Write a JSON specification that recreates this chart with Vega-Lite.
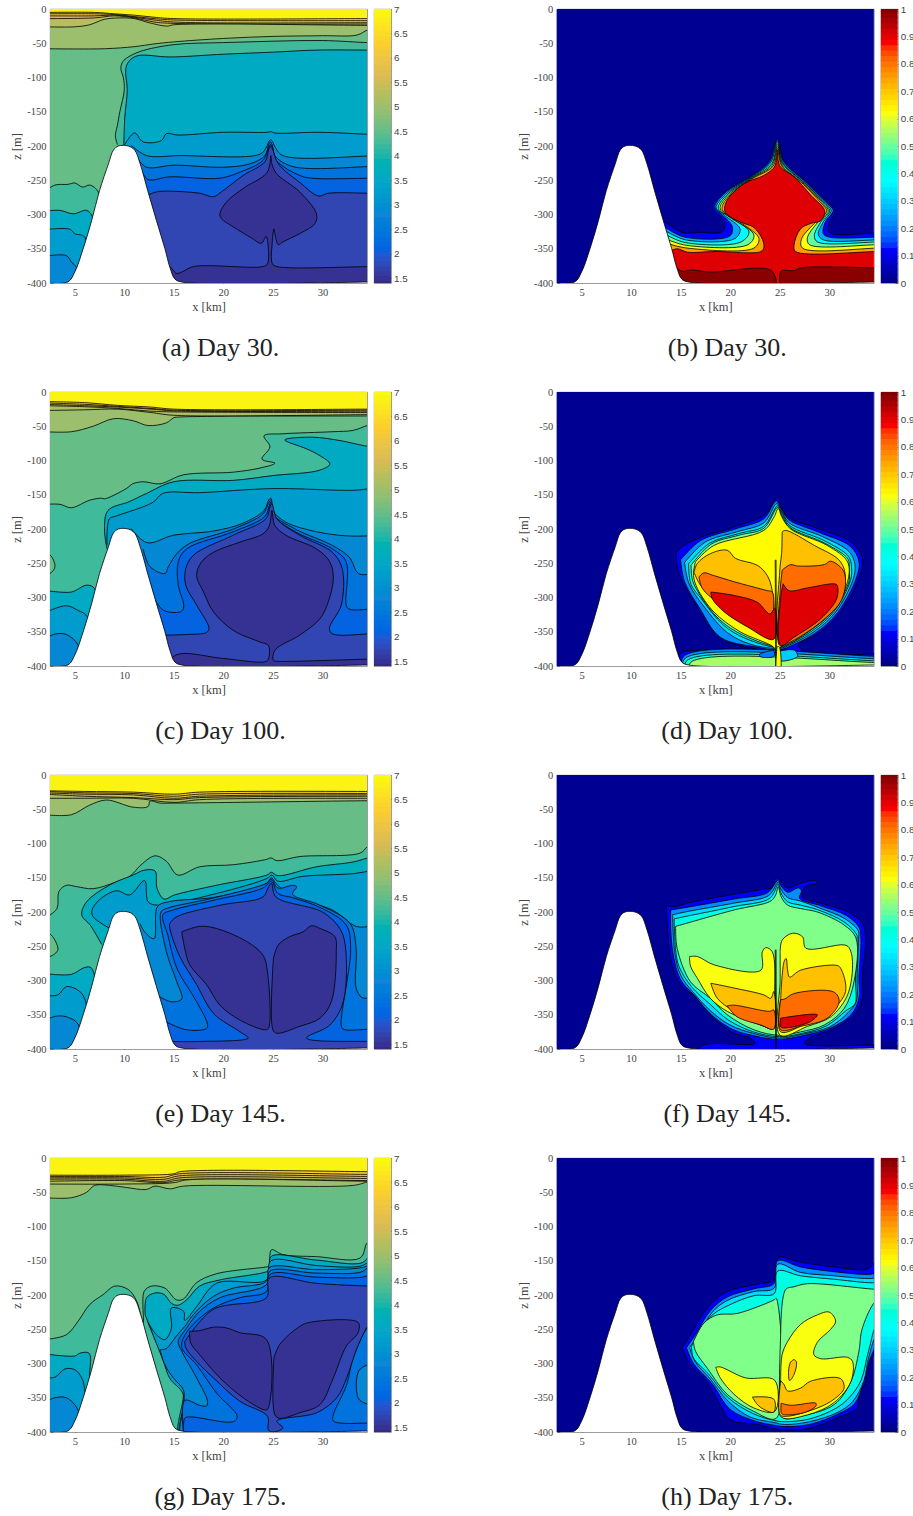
{"$schema":"https://vega.github.io/schema/vega-lite/v6.json","background":"white","padding":{"left":10,"top":3,"right":0,"bottom":0},
"config":{"view":{"stroke":"#666","strokeWidth":0.8},"title":{"font":"Liberation Serif","fontSize":26,"fontWeight":"normal","color":"#222","anchor":"middle"},"axis":{"labelFont":"Liberation Serif","titleFont":"Liberation Serif","labelFontSize":10.5,"titleFontSize":12.5,"titleFontWeight":"normal","labelColor":"#444","titleColor":"#444","domain":false,"grid":false,"tickSize":-3,"tickColor":"#444","tickWidth":0.6,"labelPadding":7,"titlePadding":3,"labelOverlap":false},"axisY":{"tickCount":12}},
"datasets":{
"sea":[{"pts":[[1,-398.5],[4.3,-398.5],[5,-384],[5.85,-350],[6.7,-309],[7.5,-265],[8.4,-226],[8.9,-206],[9.4,-200],[10.4,-200],[11.05,-206],[11.6,-226],[12.4,-267],[13.25,-309],[14.1,-350],[14.6,-377],[15.1,-394],[15.8,-398.5],[35,-398.5],[36,-398.5],[36,-420],[1,-420],[1,-398.5]]}],
"cb":[{"c":"T","v":[1.4,1.5,1.6,1.7,1.8,1.9,2,2.1,2.2,2.3,2.4,2.5,2.6,2.7,2.8,2.9,3,3.1,3.2,3.3,3.4,3.5,3.6,3.7,3.8,3.9,4,4.1,4.2,4.3,4.4,4.5,4.6,4.7,4.8,4.9,5,5.1,5.2,5.3,5.4,5.5,5.6,5.7,5.8,5.9,6,6.1,6.2,6.3,6.4,6.5,6.6,6.7,6.8,6.9,7]},{"c":"J","v":[0,0.02,0.04,0.06,0.08,0.1,0.12,0.14,0.16,0.18,0.2,0.22,0.24,0.26,0.28,0.3,0.32,0.34,0.36,0.38,0.4,0.42,0.44,0.46,0.48,0.5,0.52,0.54,0.56,0.58,0.6,0.62,0.64,0.66,0.68,0.7,0.72,0.74,0.76,0.78,0.8,0.82,0.84,0.86,0.88,0.9,0.92,0.94,0.96,0.98,1]}],
"m":[
{"p":"a","k":1,"v":6.9,"pts":[[2,5],[35,5],[35,-420],[2,-420]]},
{"p":"a","k":2,"v":6.3,"pts":[[2,-5],[7,-5],[9,-7],[11,-9],[13,-12],[15,-14],[35,-14],[37,-14],[37,-420],[2,-420]]},
{"p":"a","k":3,"v":5.9,"pts":[[2,-7],[7,-7],[9,-8],[11,-11],[13,-14],[15,-16],[35,-17],[37,-17],[37,-420],[2,-420]]},
{"p":"a","k":4,"v":5.6,"pts":[[2,-10],[7,-10],[9,-9],[11,-12],[13,-16],[15,-19],[35,-20],[37,-20],[37,-420],[2,-420]]},
{"p":"a","k":5,"v":5.3,"pts":[[2,-14],[7,-13],[9,-10],[11,-13],[13,-19],[15,-21],[35,-22],[37,-22],[37,-420],[2,-420]]},
{"p":"a","k":6,"v":5,"pts":[[2,-26],[5,-26],[6.5,-23],[8,-15],[9.5,-13],[11,-14],[12.5,-20],[14.3,-25],[15,-23],[35,-24],[37,-24],[37,-420],[2,-420]]},
{"p":"a","k":7,"v":4.55,"pts":[[2,-58],[8,-58],[11,-55],[13,-51],[15,-48],[20,-43],[25,-40],[30,-39],[33.5,-38],[34.5,-31],[35,-30],[37,-30],[37,-420],[2,-420]]},
{"p":"a","k":8,"v":4.25,"pts":[[9.3,-198],[9.1,-185],[9.3,-170],[9.55,-150],[10,-118],[9.9,-100],[9.65,-87],[9.8,-78],[10.2,-72],[11.6,-62],[15,-52],[20,-49],[25,-47],[30,-46],[34.5,-49],[35,-49],[37,-49],[37,-420],[9.3,-420]]},
{"p":"a","k":9,"v":3.6,"pts":[[9.95,-199],[10.05,-158],[10.3,-118],[10.15,-87],[10.55,-75],[11.4,-68],[14.6,-70],[20,-66],[25,-63],[29.4,-60],[35,-60],[37,-60],[37,-420],[9.95,-420]]},
{"p":"a","k":10,"v":3.25,"pts":[[10,-199],[10.2,-194],[11.05,-181],[11.9,-194],[13.75,-192],[14.25,-182],[15.4,-184],[20,-180],[24.4,-180],[24.8,-179],[25.2,-181],[29.75,-180],[35,-183],[37,-183],[37,-420],[10,-420]]},
{"p":"a","k":11,"v":2.85,"pts":[[10.7,-199],[12.25,-214],[15.6,-214],[23.7,-212],[24.35,-201.5],[24.6,-193],[24.75,-191],[24.95,-193],[25.2,-201],[26,-214],[35,-214.6],[37,-214.6],[37,-420],[10.7,-420]]},
{"p":"a","k":12,"v":2.4,"pts":[[11.2,-216],[12.25,-231],[15,-228],[20,-231],[22.7,-226],[24.2,-214],[24.6,-197],[24.75,-194],[24.9,-197],[25.2,-214],[27,-230],[35,-230],[37,-230],[37,-420],[11.2,-420]]},
{"p":"a","k":13,"v":2.1,"pts":[[11.75,-236],[12.4,-249],[14.6,-245],[19.65,-247],[21.7,-238],[24,-221],[24.6,-201],[24.75,-198],[24.95,-201],[25.35,-221],[27.7,-243],[28.9,-247],[35,-247],[37,-247],[37,-420],[11.75,-420]]},
{"p":"a","k":14,"v":1.75,"pts":[[12.35,-272],[13.25,-267],[14.75,-266],[17.6,-269],[19,-274],[19.8,-267],[22,-243],[24.2,-223],[24.6,-204],[24.8,-200],[24.95,-204],[25.55,-226],[27.7,-253],[29.6,-273],[30.6,-269],[35,-269],[37,-269],[37,-420],[12.35,-420]]},
{"p":"a","k":15,"v":1.5,"pts":[[14.3,-420],[14.45,-375],[15.3,-386],[15.8,-384],[17,-376],[24,-376],[24.45,-372],[24.5,-343],[24.3,-332],[23.85,-342],[22.7,-333],[21,-318],[19.8,-306],[19.65,-299],[20.3,-282],[22,-262],[24.35,-240],[24.7,-226],[24.8,-214],[24.9,-226],[25.35,-240],[27.7,-267],[29.4,-299],[29.25,-313],[27.7,-328],[26,-340],[25.55,-344],[25.2,-328],[25.1,-321],[24.95,-338],[24.95,-372],[25.4,-376],[35,-376],[37,-376],[37,-420]]},
{"p":"a","k":16,"v":4.25,"pts":[[2,-266],[3,-257],[4.3,-256],[5,-254],[5.8,-260],[6.5,-257],[7.4,-268],[8,-420],[2,-420]]},
{"p":"a","k":17,"v":3.6,"pts":[[2,-295],[3.5,-294],[4.85,-299],[6.2,-294],[6.8,-304],[7,-420],[2,-420]]},
{"p":"a","k":18,"v":3.25,"pts":[[2,-322],[4.5,-321.5],[5,-328],[6,-333],[6.2,-420],[2,-420]]},
{"p":"a","k":19,"v":2.85,"pts":[[2,-361],[4.15,-360],[4.7,-370],[5.15,-377],[5.3,-420],[2,-420]]},

{"p":"b","k":1,"v":0.02,"pts":[[2,5],[35,5],[35,-420],[2,-420]]},
{"p":"b","k":2,"v":0.12,"pts":[[13.2,-309],[15.35,-327],[16.7,-326],[19.2,-325],[19.45,-311],[18.35,-294],[18.2,-287],[19.4,-267],[22.1,-243],[23.9,-221],[24.25,-206],[24.6,-192],[24.75,-188],[24.95,-192],[25.45,-221],[27.8,-253],[30,-284],[30.6,-294],[30,-311],[30,-326],[35,-327],[37,-327],[37,-420],[13,-420]]},
{"p":"b","k":3,"v":0.25,"pts":[[13.35,-318],[15.4,-333],[20,-331],[20.2,-317],[19,-298],[18.45,-289],[19.45,-269],[22.1,-245],[24,-223],[24.75,-192],[25.4,-223],[27.7,-254],[29.8,-284],[30.4,-294],[29.6,-311],[29.4,-328],[30,-333],[35,-333],[37,-333],[37,-420],[13,-420]]},
{"p":"b","k":4,"v":0.37,"pts":[[13.5,-324],[15.5,-337],[20.5,-335],[21,-321],[19.4,-301],[18.6,-290],[19.5,-271],[22.1,-246],[24.1,-224],[24.75,-194],[25.3,-224],[27.6,-255],[29.65,-284],[30.2,-294],[29.35,-312],[28.9,-329],[29.4,-337],[35,-337],[37,-337],[37,-420],[13,-420]]},
{"p":"b","k":5,"v":0.5,"pts":[[13.6,-330],[15.5,-341],[21.1,-340],[21.9,-325],[19.9,-303.5],[18.8,-291],[19.55,-273],[22.1,-247],[24.2,-226],[24.75,-197],[25.3,-226],[27.55,-255],[29.5,-284],[30.05,-294.5],[29.1,-312],[28.5,-331],[28.8,-340],[35,-340],[37,-340],[37,-420],[13,-420]]},
{"p":"b","k":6,"v":0.62,"pts":[[13.75,-337],[15.6,-345],[21.8,-344],[22.4,-330],[20.4,-307],[19,-292],[19.6,-275],[22.1,-248],[24.25,-228],[24.75,-200],[25.25,-228],[27.5,-256],[29.3,-283],[29.9,-295],[28.8,-312],[27.8,-334],[28,-344],[35,-344],[37,-344],[37,-420],[13,-420]]},
{"p":"b","k":7,"v":0.75,"pts":[[13.85,-343],[15.65,-349],[22.4,-349],[22.9,-335],[20.9,-310],[19.2,-293],[19.65,-277],[22.1,-249],[24.35,-229],[24.75,-203],[25.2,-229],[27.4,-256],[29.15,-283],[29.75,-295],[28.5,-313],[27.2,-336],[27.3,-349],[35,-349],[37,-349],[37,-420],[13,-420]]},
{"p":"b","k":8,"v":0.905,"pts":[[14,-353],[14.65,-350],[15.7,-355],[18.4,-354],[23.1,-354],[23.4,-348],[23.25,-336],[22.4,-319],[21.4,-313],[20.05,-304],[19.45,-295],[19.7,-279],[21.4,-255],[23.4,-243],[24.45,-231],[24.65,-221],[24.75,-206],[24.85,-221],[25.1,-231],[26.45,-245],[28.15,-272],[29.55,-295],[29.15,-309],[28.15,-313],[27.1,-321],[26.45,-345],[26.6,-354],[35,-354],[37,-354],[37,-420],[13,-420]]},
{"p":"b","k":9,"v":0.99,"pts":[[14.5,-376],[15.15,-383],[16,-381],[18,-384],[24.25,-383],[24.25,-420],[14,-420]]},
{"p":"b","k":10,"v":0.99,"pts":[[25.15,-420],[25.15,-383],[26.45,-382],[27.1,-378],[35,-378],[37,-378],[37,-420]]},

{"p":"c","k":1,"v":6.9,"pts":[[2,5],[35,5],[35,-420],[2,-420]]},
{"p":"c","k":2,"v":6.3,"pts":[[2,-14],[6,-15.5],[9.3,-19.5],[12.7,-22],[15,-25],[35,-25],[37,-25],[37,-420],[2,-420]]},
{"p":"c","k":3,"v":5.9,"pts":[[2,-16],[6,-18],[9.3,-21],[12.7,-24],[15,-26.5],[35,-26.5],[37,-26.5],[37,-420],[2,-420]]},
{"p":"c","k":4,"v":5.5,"pts":[[2,-18],[6,-20],[9.3,-22],[12.7,-25],[15,-27.5],[35,-28],[37,-28],[37,-420],[2,-420]]},
{"p":"c","k":5,"v":5.2,"pts":[[2,-20],[6,-21.5],[9.3,-24],[12.7,-28],[15,-29],[35,-30],[37,-30],[37,-420],[2,-420]]},
{"p":"c","k":6,"v":5,"pts":[[2,-27],[6,-26],[9.3,-25],[12.7,-30],[15,-34],[35,-33],[37,-33],[37,-420],[2,-420]]},
{"p":"c","k":7,"v":4.55,"pts":[[2,-58],[4.65,-58],[6.85,-50],[8.9,-39],[10.9,-42],[12.4,-49],[14.25,-45],[15,-37.5],[15.6,-36.5],[35,-35],[37,-35],[37,-420],[2,-420]]},
{"p":"c","k":8,"v":4.25,"pts":[[2,-164],[3.5,-164],[4.65,-169],[6.5,-158],[7.7,-155],[8,-156],[10.2,-141],[10.85,-134],[11.9,-131],[13.6,-134],[15.95,-121],[21,-117],[23.7,-111],[25.2,-104],[23.9,-98],[24.7,-80],[24.1,-64],[26,-61],[31,-58],[33.1,-56],[34.5,-49],[35,-47],[37,-47],[37,-420],[2,-420]]},
{"p":"c","k":9,"v":4.55,"pts":[[2,-238],[2.5,-238],[3,-255],[2.5,-265],[2,-265]]},
{"p":"c","k":10,"v":3.6,"pts":[[8.25,-229],[8,-200],[8.35,-173],[10.5,-160],[12.25,-148],[15,-131],[21,-129],[25,-122],[29.75,-114],[30.75,-105],[29.75,-93],[28.4,-83],[26.2,-70],[29,-66],[31.8,-71],[34.5,-79],[35,-79],[37,-79],[37,-420],[8.25,-420]]},
{"p":"c","k":11,"v":3.25,"pts":[[8.25,-224],[8.5,-185],[9.2,-181],[12.9,-161],[13.9,-148],[17.6,-147],[25,-141],[33.1,-143.5],[35,-141],[37,-141],[37,-420],[8.25,-420]]},
{"p":"c","k":12,"v":2.85,"pts":[[10.7,-199.5],[12.3,-220],[15,-209],[19,-203],[21.9,-192],[24.1,-173],[24.6,-157],[24.8,-155],[25,-173],[26.3,-190],[29.4,-204],[32.4,-210],[35,-210],[37,-210],[37,-420],[10.7,-420]]},
{"p":"c","k":13,"v":2.4,"pts":[[11.9,-229],[12.6,-255],[14.1,-265],[14.45,-255],[15.3,-236],[16.6,-221],[21,-200],[24,-178],[24.6,-161],[24.85,-157],[25,-178],[27.25,-200],[31,-224],[32.7,-241],[33.65,-265],[35,-266],[37,-266],[37,-420],[11.9,-420]]},
{"p":"c","k":14,"v":2.1,"pts":[[12.9,-299],[14,-319],[15.8,-320],[16,-311],[15.45,-282],[15.45,-248],[16.3,-229],[21,-204],[24.2,-181.5],[24.65,-165],[24.85,-160],[25.15,-181.5],[27.25,-204],[31,-229],[32.4,-248],[32.4,-311],[32.7,-317],[35,-317],[37,-317],[37,-420],[12.9,-420]]},
{"p":"c","k":15,"v":1.75,"pts":[[14.1,-355],[16.3,-354],[18.3,-351],[18.55,-345],[17.3,-311],[16.2,-282],[16.2,-258],[17,-238],[21,-209],[24.3,-185],[24.7,-168],[24.9,-163],[25.4,-185],[27.7,-209],[31,-234],[32,-258],[31.9,-311],[30.7,-345],[31,-353],[35,-353],[37,-353],[37,-420],[14,-420]]},
{"p":"c","k":16,"v":1.5,"pts":[[14.3,-420],[14.75,-389],[15.75,-382],[20,-389],[24.35,-393],[24.6,-387],[24.55,-370],[23.7,-365],[21,-348],[19,-321],[18,-292],[17.3,-268],[17.8,-248],[19,-234],[21.7,-219],[24,-207],[24.65,-195],[24.9,-173],[25.2,-195],[26.3,-209],[29.4,-229],[30.75,-248],[31.1,-272],[30.6,-306],[29.75,-331],[27.7,-355],[25.2,-377],[25.05,-392],[25.35,-393],[34.5,-390],[35,-390],[37,-390],[37,-420]]},
{"p":"c","k":17,"v":3.6,"pts":[[2,-289.5],[4.65,-292],[6.2,-282],[7,-287],[7.2,-420],[2,-420]]},
{"p":"c","k":18,"v":3.25,"pts":[[2,-322],[4.15,-312],[5.35,-319],[6.25,-328],[6.4,-420],[2,-420]]},
{"p":"c","k":19,"v":2.85,"pts":[[2,-359],[3.15,-353],[4.15,-354],[5.35,-370],[5.5,-420],[2,-420]]},

{"p":"d","k":1,"v":0.02,"pts":[[2,5],[35,5],[35,-420],[2,-420]]},
{"p":"d","k":2,"v":0.12,"pts":[[15,-420],[15,-382],[22.3,-382],[22.9,-377],[20.4,-368],[18.35,-350],[16.35,-306],[15,-272],[14.55,-243],[14.7,-232],[16.7,-214],[20.4,-197],[23.4,-180],[24.25,-165],[24.6,-156],[24.85,-154],[25.1,-165],[25.8,-182],[28.8,-199],[32.2,-219],[33.35,-243],[33,-272],[31.15,-321],[29.15,-350],[26.9,-370],[28,-382],[35,-382],[37,-382],[37,-420]]},
{"p":"d","k":3,"v":0.22,"pts":[[15,-245],[17,-217],[20.5,-200],[23.4,-185],[24.65,-159],[25.1,-169],[25.9,-186],[29,-205],[32.1,-225],[33,-247],[32.7,-273],[30.9,-321],[28.9,-349],[26.4,-369],[25,-376],[22.5,-372],[19,-358],[16.9,-315],[15.4,-277],[15,-245]]},
{"p":"d","k":4,"v":0.32,"pts":[[15.4,-249],[17.5,-219],[20.7,-204],[23.4,-191],[24.7,-163],[25.15,-173],[25.95,-191],[29.3,-211],[32,-233],[32.6,-252],[32.4,-274],[30.65,-321],[28.65,-348],[26.2,-368],[25,-374],[22,-368],[19.7,-351],[17.4,-314],[15.85,-280],[15.4,-249]]},
{"p":"d","k":5,"v":0.42,"pts":[[15.8,-251],[17.9,-221],[20.8,-207],[23.4,-196],[24.8,-166],[25.2,-177],[26,-195],[29.5,-217],[31.95,-240],[32.25,-256],[32.15,-275],[30.45,-321],[28.45,-347],[26.1,-367],[25,-373],[21.6,-360],[19.3,-340],[17.1,-302],[16.05,-281],[15.8,-251]]},
{"p":"d","k":6,"v":0.52,"pts":[[16.05,-253],[18.1,-222],[20.9,-209],[23.4,-199],[24.82,-168],[25.2,-180],[26.05,-198],[29.6,-221],[31.9,-244],[32,-259],[32,-276],[30.3,-321],[28.3,-346],[26,-367],[25,-372],[21.3,-355],[18.9,-332],[16.9,-295],[16.2,-275],[16.05,-253]]},
{"p":"d","k":7,"v":0.63,"pts":[[16.5,-248],[18.35,-224],[23.4,-202],[24.45,-182],[24.85,-170],[25.2,-182],[26.1,-200],[29.8,-224],[31.85,-248],[31.85,-277],[30.15,-321],[28.15,-345],[25.1,-372],[24.75,-380],[24.35,-372],[21,-350],[18.35,-321],[16.7,-287],[16.3,-268],[16.5,-248]]},
{"p":"d","k":8,"v":0.71,"pts":[[16.35,-263],[16.7,-250],[18,-236],[19.7,-231],[20.55,-243],[22.75,-253],[23.75,-268],[24.25,-290],[24.45,-321],[24.4,-358],[21.75,-341],[19,-311],[17,-282],[16.35,-263]]},
{"p":"d","k":9,"v":0.71,"pts":[[25.25,-204],[25.6,-202],[28.5,-224],[31.15,-248],[31.6,-277],[30.15,-316],[27.8,-345],[25.1,-367],[25,-263],[25.2,-234],[25.25,-204]]},
{"p":"d","k":10,"v":0.81,"pts":[[16.85,-270],[17.35,-264],[18.35,-268],[20.4,-277],[23.75,-290],[24.25,-292],[24.4,-321],[24.35,-358],[21.75,-338],[18.7,-307],[17.2,-287],[16.85,-270]]},
{"p":"d","k":11,"v":0.905,"pts":[[18.05,-292],[20.4,-297],[22.75,-307],[24,-324],[24.5,-316],[24.4,-361],[21.75,-343],[19.4,-321],[18.2,-302],[18.05,-292]]},
{"p":"d","k":12,"v":0.81,"pts":[[25.25,-260],[26.1,-252],[26.8,-254],[29.5,-252],[30.15,-247],[31.5,-263],[31.3,-302],[29.15,-336],[25.8,-367],[25,-370],[25.05,-290],[25.25,-260]]},
{"p":"d","k":13,"v":0.905,"pts":[[25.35,-280],[25.95,-290],[27.8,-286],[30.5,-280],[30.8,-282],[30.75,-302],[29.15,-331],[26.45,-358],[25.1,-370],[25.1,-300],[25.35,-280]]},
{"p":"d","k":14,"v":0.22,"pts":[[15.3,-420],[15.3,-386],[35,-386],[37,-386],[37,-420]]},
{"p":"d","k":15,"v":0.32,"pts":[[15.4,-420],[15.4,-389.5],[35,-389.5],[37,-389.5],[37,-420]]},
{"p":"d","k":16,"v":0.45,"pts":[[15.6,-420],[15.6,-392.5],[35,-392.5],[37,-392.5],[37,-420]]},
{"p":"d","k":17,"v":0.55,"pts":[[16,-420],[16,-395],[35,-395],[37,-395],[37,-420]]},
{"p":"d","k":18,"v":0.2,"pts":[[23,-382],[24.4,-378],[24.4,-386],[23,-386],[23,-382]]},
{"p":"d","k":19,"v":0.3,"pts":[[25,-378],[26.5,-377],[26.8,-386],[25,-392],[25,-378]]},
{"p":"d","k":20,"v":0.63,"pts":[[24.55,-245],[24.6,-420]]},
{"p":"d","k":21,"v":0.63,"pts":[[24.63,-245],[24.68,-420]]},
{"p":"d","k":22,"v":0.63,"pts":[[24.72,-372],[24.95,-372],[25,-420],[24.72,-420],[24.72,-372]]},

{"p":"e","k":1,"v":6.9,"pts":[[2,5],[35,5],[35,-420],[2,-420]]},
{"p":"e","k":2,"v":6.3,"pts":[[2,-23],[6,-24],[10.9,-25],[15,-28],[17.6,-25],[35,-24],[37,-24],[37,-420],[2,-420]]},
{"p":"e","k":3,"v":5.9,"pts":[[2,-24],[6,-26],[10.9,-27],[15,-31],[17.6,-28],[35,-27],[37,-27],[37,-420],[2,-420]]},
{"p":"e","k":4,"v":5.5,"pts":[[2,-26],[6,-28],[10.9,-29],[15,-34],[17.6,-31],[35,-29],[37,-29],[37,-420],[2,-420]]},
{"p":"e","k":5,"v":5.2,"pts":[[2,-28],[6,-31],[10.9,-33],[15,-36],[17.6,-33],[35,-31],[37,-31],[37,-420],[2,-420]]},
{"p":"e","k":6,"v":5,"pts":[[2,-34],[6,-34],[10.9,-34],[15,-40],[17.6,-36],[35,-34],[37,-34],[37,-420],[2,-420]]},
{"p":"e","k":7,"v":4.55,"pts":[[2,-58],[4.65,-58],[6.5,-44],[8.2,-36.5],[10.9,-47],[12.4,-46],[12.6,-38],[13.6,-41],[15,-41],[35,-37.5],[37,-37.5],[37,-420],[2,-420]]},
{"p":"e","k":8,"v":4.25,"pts":[[2,-209],[3.2,-195],[3.4,-170],[4.15,-161],[5.2,-163],[6.85,-166],[9.2,-156],[10.55,-148],[11.7,-131],[13.1,-118],[14.25,-126],[15.4,-146],[17.6,-134],[21,-131],[24.4,-123],[24.8,-121],[25.4,-125],[27.75,-119],[33.8,-114],[34.5,-105],[35,-100],[37,-100],[37,-420],[2,-420]]},
{"p":"e","k":9,"v":4.55,"pts":[[2,-232],[2.5,-232],[3.3,-255],[2.5,-265],[2,-265]]},
{"p":"e","k":10,"v":3.7,"pts":[[7.7,-247],[6.6,-220],[5.7,-204],[6.2,-185],[8.6,-160],[10.9,-146],[12,-139],[13.1,-140],[13.3,-165],[14,-181],[15.1,-175],[19.3,-161],[24.4,-146],[24.85,-142],[25.5,-147],[29.4,-134],[33.1,-127],[35,-120],[37,-120],[37,-420],[7.7,-420]]},
{"p":"e","k":11,"v":3.25,"pts":[[8.55,-224],[6.85,-207],[6.75,-197],[7.5,-182],[9.2,-169],[10.55,-175],[12.05,-154],[12.4,-185],[13.35,-190],[19.3,-173],[24.4,-151],[24.9,-146],[25.5,-155],[28,-148],[33.1,-144],[35,-140],[37,-140],[37,-420],[8.55,-420]]},
{"p":"e","k":12,"v":2.85,"pts":[[11.6,-217],[12,-228],[13,-239],[13.35,-192],[14.5,-185],[19.3,-178],[24.4,-158],[24.85,-150],[25.3,-158],[27,-178],[31,-197],[33.4,-221],[35,-221],[37,-221],[37,-420],[11.6,-420]]},
{"p":"e","k":13,"v":2.4,"pts":[[13.25,-321],[14.75,-331],[15.8,-327],[15.3,-302],[14.25,-258],[13.7,-200],[14.25,-195],[19.3,-178.5],[24.35,-158],[24.85,-152],[25.5,-165],[27,-161],[27.4,-163],[27,-174],[29.75,-190],[32.8,-217],[33.4,-253],[33.4,-311],[34,-325],[35,-325],[37,-325],[37,-420],[13.25,-420]]},
{"p":"e","k":14,"v":2.1,"pts":[[14.15,-360],[16.3,-372],[18.3,-370],[18.4,-364],[17.3,-331],[15.3,-282],[14.4,-234],[13.9,-204],[14.95,-197],[19.3,-182],[24,-165],[24.85,-155],[25.5,-173],[27,-179],[30,-195],[32.4,-219],[32.85,-253],[31.9,-365],[32.1,-371],[35,-371],[37,-371],[37,-420],[14,-420]]},
{"p":"e","k":15,"v":1.75,"pts":[[14.75,-389],[17.6,-389],[22.5,-384],[21.7,-375],[19,-348],[17.3,-306],[15.6,-265],[14.6,-224],[14.6,-217],[15.3,-207],[19.7,-190],[24,-178],[24.5,-165],[24.85,-158],[25.3,-178],[30,-200],[31.75,-224],[32.3,-248],[32.1,-331],[30.75,-365],[28.4,-384],[35,-389],[37,-389],[37,-420],[14.5,-420]]},
{"p":"e","k":16,"v":1.5,"pts":[[15.8,-229],[17.6,-221],[19.3,-224],[22.35,-243],[24,-263],[24.45,-287],[24.55,-370],[24.2,-372],[21.7,-358],[19.65,-336],[18.3,-306],[16.6,-277],[16.1,-253],[15.8,-229]]},
{"p":"e","k":17,"v":1.5,"pts":[[25.05,-268],[25.55,-248],[26.7,-236],[28.05,-229],[28.9,-220],[29.75,-224],[31.25,-236],[31.4,-258],[30.9,-331],[29.75,-355],[27.7,-367],[25.4,-377],[25,-372],[25.05,-268]]},
{"p":"e","k":18,"v":3.6,"pts":[[2,-290],[4.65,-291],[6,-281],[6.7,-282],[6.75,-420],[2,-420]]},
{"p":"e","k":19,"v":3.25,"pts":[[2,-322],[3.3,-321],[4.15,-309],[5.5,-316],[6.1,-331],[6.2,-420],[2,-420]]},
{"p":"e","k":20,"v":2.85,"pts":[[2,-358],[3.15,-352],[4.15,-353],[5.35,-364],[5.5,-420],[2,-420]]},

{"p":"f","k":1,"v":0.02,"pts":[[2,5],[35,5],[35,-420],[2,-420]]},
{"p":"f","k":2,"v":0.12,"pts":[[13.55,-191],[14.5,-192],[15.7,-187],[20.4,-174],[23.75,-166],[24.4,-165],[24.5,-153],[24.85,-150],[25.15,-156],[25.8,-165],[27.1,-158],[28.65,-154],[28.8,-158],[27.6,-163],[27.3,-178],[29.15,-187],[31.85,-199.5],[33.35,-217],[33.7,-238],[33.35,-292],[33.35,-326],[32.5,-350],[30.5,-370],[28,-384],[27.5,-392],[35,-394],[37,-394],[37,-420],[16.5,-420],[17,-396],[22.5,-392],[22.05,-384],[20.4,-377],[18.35,-355],[16.7,-326],[15,-306],[14,-268],[13.65,-219],[13.55,-191]]},
{"p":"f","k":3,"v":0.22,"pts":[[14,-197],[15.7,-193],[20.4,-181],[23.75,-172],[24.55,-158],[24.85,-153],[25.1,-161],[25.8,-171],[26.9,-165],[27.2,-169],[27,-180],[29.15,-191],[31.7,-205],[33,-222],[33.2,-240],[33,-295],[33,-326],[32.2,-350],[30.2,-369],[27.5,-380],[24.9,-386],[22.2,-380],[20.2,-371],[18.1,-350],[16.4,-322],[15,-299],[14.25,-262],[14,-225],[14,-197]]},
{"p":"f","k":4,"v":0.32,"pts":[[14.2,-204],[15.8,-199],[20.4,-187],[23.9,-176],[24.65,-160],[24.85,-156],[25.1,-166],[25.8,-179],[27.1,-184],[29,-194],[31.6,-210],[32.95,-228],[32.95,-240],[32.8,-297],[32.75,-330],[31.9,-347],[30,-368],[27.4,-378],[24.95,-384],[22.3,-377],[20,-365],[18,-344],[16.2,-316],[15,-292],[14.4,-258],[14.2,-204]]},
{"p":"f","k":5,"v":0.42,"pts":[[14.35,-210],[16,-205],[20.4,-192],[24,-180],[24.75,-161],[24.85,-159],[25.12,-172],[25.8,-185],[27.1,-190],[28.9,-197],[31.55,-215],[32.8,-234],[32.8,-240],[32.65,-299],[32.6,-334],[31.7,-344],[29.75,-366],[27.3,-377],[24.95,-382],[22.35,-375],[19.85,-358],[18,-335],[16.1,-309],[14.85,-280],[14.5,-256],[14.35,-210]]},
{"p":"f","k":6,"v":0.52,"pts":[[14.5,-221],[20.4,-197],[24.1,-184],[24.6,-175],[24.85,-163],[25.15,-178],[25.8,-190],[27.1,-195],[28.8,-200],[31.5,-219],[32.7,-238],[32.5,-302],[31.5,-341],[29.5,-365],[27.1,-375],[24.95,-380],[22.4,-372],[19.7,-350],[18,-326],[16,-302],[14.65,-253],[14.5,-221]]},
{"p":"f","k":7,"v":0.62,"pts":[[15.9,-265],[16.7,-265],[18.35,-277],[23.1,-285],[23.25,-258],[23.6,-252],[24.25,-258],[24.5,-321],[24.4,-370],[23.1,-365],[19.7,-345],[18,-326],[16.7,-297],[16,-279],[15.9,-265]]},
{"p":"f","k":8,"v":0.62,"pts":[[25.05,-258],[25.25,-241],[26.3,-231],[27.3,-236],[27.65,-253],[31.5,-248],[32,-252],[32.35,-272],[31.85,-321],[30.15,-353],[27.8,-367],[25.05,-380],[25.05,-300],[25.05,-258]]},
{"p":"f","k":9,"v":0.71,"pts":[[18.05,-304],[20.4,-311],[23.4,-321],[24.1,-326],[24.4,-316],[24.4,-370],[23.1,-365],[20.4,-345],[18.7,-326],[18.05,-304]]},
{"p":"f","k":10,"v":0.71,"pts":[[25.1,-326],[25.45,-272],[25.65,-268],[25.8,-285],[26,-295],[27.1,-285],[30.8,-278],[31.15,-282],[31.65,-316],[30.15,-345],[27.8,-362],[25.1,-375],[25.1,-326]]},
{"p":"f","k":11,"v":0.81,"pts":[[19.7,-337],[20.4,-336],[24,-345],[24.4,-343],[24.4,-371],[23.1,-365],[20.7,-353],[19.7,-337]]},
{"p":"f","k":12,"v":0.81,"pts":[[25.1,-328],[25.5,-327],[26.45,-319],[30.5,-317],[31,-331],[29.8,-355],[27.1,-367],[25.1,-372],[25.1,-328]]},
{"p":"f","k":13,"v":0.905,"pts":[[25.1,-355],[28.8,-350],[28.1,-360],[25.8,-369],[25.1,-368],[25.1,-355]]},
{"p":"f","k":14,"v":0.5,"pts":[[24.55,-255],[24.6,-420]]},
{"p":"f","k":15,"v":0.5,"pts":[[24.63,-255],[24.68,-420]]},

{"p":"g","k":1,"v":6.9,"pts":[[2,5],[35,5],[35,-420],[2,-420]]},
{"p":"g","k":2,"v":6.3,"pts":[[2,-25],[10,-25],[15,-23],[15.6,-20],[35,-20],[37,-20],[37,-420],[2,-420]]},
{"p":"g","k":3,"v":5.9,"pts":[[2,-27],[10,-27],[14,-28],[15.6,-23],[35,-24],[37,-24],[37,-420],[2,-420]]},
{"p":"g","k":4,"v":5.6,"pts":[[2,-29],[10,-29],[14,-31],[15.6,-26],[35,-27],[37,-27],[37,-420],[2,-420]]},
{"p":"g","k":5,"v":5.4,"pts":[[2,-31],[10,-31],[14,-34],[15.6,-29],[35,-30],[37,-30],[37,-420],[2,-420]]},
{"p":"g","k":6,"v":5.2,"pts":[[2,-34],[10,-33],[14,-36],[15.6,-32],[35,-33],[37,-33],[37,-420],[2,-420]]},
{"p":"g","k":7,"v":5,"pts":[[2,-38],[10,-38],[15,-36],[16.3,-32],[35,-34],[37,-34],[37,-420],[2,-420]]},
{"p":"g","k":8,"v":4.55,"pts":[[2,-58],[4.65,-58],[6.2,-50],[7,-40],[8.5,-40],[10.2,-43],[12.2,-46],[13.1,-41],[14.6,-45],[16,-41],[33.1,-40],[34.5,-35],[35,-33],[37,-33],[37,-420],[2,-420]]},
{"p":"g","k":9,"v":4.25,"pts":[[2,-265],[4.15,-258],[5.35,-238],[6.5,-214],[7.85,-199.5],[9.05,-187],[10.4,-192],[11.25,-209],[11.9,-241],[12,-195],[12.75,-187],[14.1,-190],[15.25,-207],[15.95,-206],[17.3,-182],[19.3,-169],[24.35,-159],[24.6,-158],[24.85,-134],[26,-141],[29.4,-144],[33.8,-146],[34.5,-124],[35,-120],[37,-120],[37,-420],[2,-420]]},
{"p":"g","k":10,"v":3.6,"pts":[[12.1,-229],[12.25,-204],[13.1,-197],[14,-199],[14.75,-212],[15.4,-215],[16.3,-207],[17.6,-187],[19.65,-178],[24.35,-166],[24.6,-163],[24.85,-143.5],[29.4,-149],[34,-153],[35,-140],[37,-140],[37,-420],[15.8,-420],[15.9,-340],[15,-326],[13.6,-282],[12.1,-229]]},
{"p":"g","k":11,"v":3.25,"pts":[[12.4,-240],[13.25,-258],[14.1,-265],[14.75,-249],[14.75,-219],[16,-224],[16.1,-237],[17.3,-217],[19.3,-183],[24.35,-178],[24.8,-150],[29.4,-157],[33.8,-158],[35,-150],[37,-150],[37,-420],[15.95,-420],[15.95,-345],[14.6,-322],[13.9,-295],[12.4,-240]]},
{"p":"g","k":12,"v":2.85,"pts":[[13.6,-280],[14.25,-278],[15.25,-260],[16.1,-246],[16.95,-229],[19,-202],[21,-190],[24.35,-180],[24.65,-160],[29.4,-163],[34,-160],[35,-155],[37,-155],[37,-420],[16,-420],[16.05,-355],[15.95,-338],[14.95,-321],[14.1,-302],[13.6,-280]]},
{"p":"g","k":13,"v":2.4,"pts":[[16.1,-420],[16.1,-354],[17.6,-361],[18.3,-362],[18.4,-355],[17.3,-321],[15.8,-282],[15.45,-268],[16.3,-248],[17.6,-224],[19.65,-204],[24.35,-185],[24.7,-165],[29.4,-168],[34,-166],[35,-155],[37,-155],[37,-420]]},
{"p":"g","k":14,"v":2.85,"pts":[[35,-300],[33.7,-310],[33.6,-350],[34.3,-358],[35,-358],[35,-300]]},
{"p":"g","k":15,"v":2.1,"pts":[[16.1,-420],[16.1,-380],[16.7,-378],[21,-385],[21.4,-377],[19.3,-343],[17.3,-302],[15.8,-277],[15.95,-263],[16.95,-243],[19,-219],[21.65,-204],[24.35,-195],[24.7,-170],[29.4,-174],[34,-174],[35,-170],[37,-170],[37,-241],[35,-241],[33.1,-292],[32.45,-331],[31.1,-375],[31.1,-384],[35,-387],[37,-387],[37,-420]]},
{"p":"g","k":16,"v":1.75,"pts":[[16.1,-268],[19,-221],[24.35,-204],[24.65,-175],[29.4,-183],[35,-187],[37,-187],[37,-240],[35,-240],[33.65,-272],[32.45,-321],[31.45,-350],[29.4,-372],[25.4,-384],[26,-394],[25,-400],[24.55,-397],[24.45,-377],[21.65,-355],[19,-321],[17.3,-297],[16.2,-277],[16.1,-268]]},
{"p":"g","k":17,"v":1.5,"pts":[[16.6,-253],[17.6,-252],[19,-247],[20.3,-248],[21.65,-255],[24.35,-265],[24.45,-367],[24,-367],[22,-350],[19.65,-321],[17.6,-287],[16.7,-270],[16.6,-253]]},
{"p":"g","k":18,"v":1.5,"pts":[[25.1,-292],[25.7,-272],[27.7,-246],[28.7,-240],[33.6,-240],[33.6,-255],[32.4,-275],[31.1,-321],[29.75,-360],[27.7,-372],[25.7,-380],[25.2,-375],[25.1,-292]]},
{"p":"g","k":19,"v":3.6,"pts":[[2,-286],[5,-289],[5.5,-285],[6.45,-285],[6.5,-321],[6.6,-420],[2,-420]]},
{"p":"g","k":20,"v":3.25,"pts":[[2,-321],[3,-320],[4,-308],[5,-309],[5.7,-321],[6,-338],[6.2,-420],[2,-420]]},
{"p":"g","k":21,"v":2.85,"pts":[[2,-356],[3,-350],[4.15,-350],[5.35,-369],[5.5,-420],[2,-420]]},

{"p":"h","k":1,"v":0.02,"pts":[[2,5],[35,5],[35,-420],[2,-420]]},
{"p":"h","k":2,"v":0.12,"pts":[[15.15,-277],[16,-258],[17.7,-219],[19.7,-195],[22.4,-185],[24.45,-178],[24.75,-163],[24.85,-145],[27.1,-152],[30.5,-159],[33.85,-162],[34.5,-153],[35,-150],[37,-150],[37,-270],[35,-270],[34.5,-287],[33.7,-302],[33.7,-326],[33,-345],[32.85,-365],[31.15,-377],[28.15,-394],[25.45,-397],[24.4,-395],[22.75,-389],[20,-382],[19,-360],[17.35,-321],[16,-302],[15.15,-277]]},
{"p":"h","k":3,"v":0.22,"pts":[[15.6,-277],[16.5,-258],[18,-223],[19.7,-203],[22.4,-191],[24.45,-183],[24.8,-150],[27.1,-159],[30.5,-166],[33.9,-170],[35,-168],[37,-168],[37,-272],[35,-272],[34.2,-290],[33.5,-325],[32.6,-358],[31,-373],[28,-389],[25.5,-392],[24.4,-390],[22.5,-384],[20,-367],[18.2,-330],[16.3,-300],[15.6,-277]]},
{"p":"h","k":4,"v":0.32,"pts":[[15.9,-277],[16.8,-258],[18.2,-225],[19.7,-208],[22.4,-195],[24.45,-190],[24.8,-155],[27.1,-167],[30.5,-172],[33.9,-176],[35,-175],[37,-175],[37,-255],[35,-255],[34,-290],[33.5,-325],[32.4,-355],[30.9,-371],[28,-385],[25.5,-389],[24.4,-386],[22,-378],[19.8,-355],[17.9,-321],[16.5,-298],[15.9,-277]]},
{"p":"h","k":5,"v":0.42,"pts":[[16.1,-275],[17,-250],[18.3,-228],[20,-214],[22.4,-201],[24.45,-198],[24.8,-165],[27.1,-172],[30.5,-177],[33.9,-182],[35,-182],[37,-182],[37,-240],[35,-240],[34,-280],[33.2,-325],[32,-350],[30.6,-366],[28,-381],[25.5,-385],[24.4,-383],[22.3,-373],[19.8,-350],[17.8,-315],[16.3,-292],[16.1,-275]]},
{"p":"h","k":6,"v":0.52,"pts":[[16.3,-268],[17.35,-241],[18.7,-229],[20.7,-227],[24.45,-207],[24.65,-205],[24.65,-380],[22.4,-370],[19.7,-345],[17.7,-307],[16.5,-282],[16.3,-268]]},
{"p":"h","k":7,"v":0.52,"pts":[[25.1,-258],[25.6,-192],[26.45,-188],[27.8,-183.5],[35,-192],[37,-192],[37,-205],[35,-205],[33.35,-248],[33,-282],[32.2,-326],[30.5,-360],[27.1,-377],[25.45,-380],[25.1,-370],[25.1,-258]]},
{"p":"h","k":8,"v":0.62,"pts":[[18.55,-305.6],[19,-305],[21.55,-321],[24.5,-324.5],[24.5,-370],[22.4,-365],[20.4,-345],[19,-321],[18.55,-305.6]]},
{"p":"h","k":9,"v":0.71,"pts":[[22.25,-349],[24.4,-352],[24.4,-371],[23.4,-367],[22.75,-360],[22.25,-349]]},
{"p":"h","k":10,"v":0.62,"pts":[[25.1,-323],[25.25,-287],[25.8,-268],[27.1,-243],[28.8,-229],[30,-225],[30.65,-238],[30.15,-250],[28.8,-269],[28.45,-287],[29.15,-293],[31.85,-291],[32.35,-297],[32.2,-326],[30.5,-357],[27.8,-375],[25.15,-378],[25.1,-323]]},
{"p":"h","k":11,"v":0.71,"pts":[[26.45,-294],[26.7,-298],[26.45,-316],[26,-325],[25.9,-311],[26.1,-298],[26.45,-294]]},
{"p":"h","k":12,"v":0.71,"pts":[[25.1,-325],[25.45,-331],[25.8,-340],[27.1,-336],[28.1,-326],[31.15,-322],[31.5,-336],[30.5,-352],[28.8,-365],[25.8,-377],[25.05,-375],[25.1,-325]]},
{"p":"h","k":13,"v":0.81,"pts":[[25.15,-358],[26.1,-361],[28.65,-358],[28.65,-362],[27.6,-371],[25.6,-375],[25.2,-373],[25.15,-358]]}
]},
"vconcat":[
{"hconcat":[
{"hconcat":[
{"width":317,"height":274,"title":{"text":"(a) Day 30.","orient":"bottom","dx":12,"offset":22},"layer":[{"data":{"name":"m"},"transform":[{"filter":"datum.p=='a'"},{"flatten":["pts"]}],"mark":{"type":"line","interpolate":"catmull-rom","stroke":"black","strokeWidth":0.8,"clip":true,"order":null},"encoding":{"x":{"field":"pts[0]","type":"quantitative","scale":{"domain":[2.5,34.5],"nice":false,"zero":false},"axis":{"values":[5,10,15,20,25,30],"title":"x [km]"}},"y":{"field":"pts[1]","type":"quantitative","scale":{"domain":[-400,0],"nice":false},"axis":{"values":[-400,-350,-300,-250,-200,-150,-100,-50,0],"title":"z [m]","labelExpr":"''+datum.value"}},"detail":{"field":"k"},"fill":{"field":"v","type":"quantitative","scale":{"domain":[1.4,2.1,2.8,3.5,4.2,4.9,5.6,6.3,7],"range":["#352a87","#0363e1","#1485d4","#06a7c6","#38b99e","#92bf73","#d9ba56","#fcce2e","#f9fb0e"]},"legend":null}}},{"data":{"name":"sea"},"transform":[{"flatten":["pts"]}],"mark":{"type":"line","interpolate":"catmull-rom","fill":"white","stroke":"black","strokeWidth":0.8,"clip":true,"order":null},"encoding":{"x":{"field":"pts[0]","type":"quantitative"},"y":{"field":"pts[1]","type":"quantitative"}}}]},
{"width":17,"height":274,"data":{"name":"cb"},"transform":[{"filter":"datum.c=='T'"},{"flatten":["v"]}],"mark":{"type":"tick","orient":"horizontal","thickness":6,"size":17,"clip":true,"opacity":1},"encoding":{"y":{"field":"v","type":"quantitative","scale":{"domain":[1.4,7],"nice":false,"zero":false},"axis":{"orient":"right","values":[1.5,2,2.5,3,3.5,4,4.5,5,5.5,6,6.5,7],"format":"~g","title":null,"labelFont":"Liberation Sans","labelFontSize":9.8,"tickSize":-3,"labelPadding":5.5}},"color":{"field":"v","type":"quantitative","scale":{"domain":[1.4,2.1,2.8,3.5,4.2,4.9,5.6,6.3,7],"range":["#352a87","#0363e1","#1485d4","#06a7c6","#38b99e","#92bf73","#d9ba56","#fcce2e","#f9fb0e"]},"legend":null}}}
],"spacing":7,"bounds":"flush"},
{"hconcat":[
{"width":317,"height":274,"title":{"text":"(b) Day 30.","orient":"bottom","dx":12,"offset":22},"layer":[{"data":{"name":"m"},"transform":[{"filter":"datum.p=='b'"},{"flatten":["pts"]}],"mark":{"type":"line","interpolate":"catmull-rom","stroke":"black","strokeWidth":0.8,"clip":true,"order":null},"encoding":{"x":{"field":"pts[0]","type":"quantitative","scale":{"domain":[2.5,34.5],"nice":false,"zero":false},"axis":{"values":[5,10,15,20,25,30],"title":"x [km]"}},"y":{"field":"pts[1]","type":"quantitative","scale":{"domain":[-400,0],"nice":false},"axis":{"values":[-400,-350,-300,-250,-200,-150,-100,-50,0],"title":"z [m]","labelExpr":"''+datum.value"}},"detail":{"field":"k"},"fill":{"field":"v","type":"quantitative","scale":{"domain":[0,0.125,0.375,0.625,0.875,1],"range":["#000080","#0000ff","#00ffff","#ffff00","#ff0000","#800000"]},"legend":null}}},{"data":{"name":"sea"},"transform":[{"flatten":["pts"]}],"mark":{"type":"line","interpolate":"catmull-rom","fill":"white","stroke":"black","strokeWidth":0.8,"clip":true,"order":null},"encoding":{"x":{"field":"pts[0]","type":"quantitative"},"y":{"field":"pts[1]","type":"quantitative"}}}]},
{"width":17,"height":274,"data":{"name":"cb"},"transform":[{"filter":"datum.c=='J'"},{"flatten":["v"]}],"mark":{"type":"tick","orient":"horizontal","thickness":6.5,"size":17,"clip":true,"opacity":1},"encoding":{"y":{"field":"v","type":"quantitative","scale":{"domain":[0,1],"nice":false},"axis":{"orient":"right","values":[0,0.1,0.2,0.3,0.4,0.5,0.6,0.7,0.8,0.9,1],"format":"~g","title":null,"labelFont":"Liberation Sans","labelFontSize":9.8,"tickSize":-3,"labelPadding":5.5}},"color":{"field":"v","type":"quantitative","scale":{"domain":[0,0.125,0.375,0.625,0.875,1],"range":["#000080","#0000ff","#00ffff","#ffff00","#ff0000","#800000"]},"legend":null}}}
],"spacing":7,"bounds":"flush"}
],"spacing":108.8,"resolve":{"scale":{"color":"independent","fill":"independent"}}},
{"hconcat":[
{"hconcat":[
{"width":317,"height":274,"title":{"text":"(c) Day 100.","orient":"bottom","dx":12,"offset":22},"layer":[{"data":{"name":"m"},"transform":[{"filter":"datum.p=='c'"},{"flatten":["pts"]}],"mark":{"type":"line","interpolate":"catmull-rom","stroke":"black","strokeWidth":0.8,"clip":true,"order":null},"encoding":{"x":{"field":"pts[0]","type":"quantitative","scale":{"domain":[2.5,34.5],"nice":false,"zero":false},"axis":{"values":[5,10,15,20,25,30],"title":"x [km]"}},"y":{"field":"pts[1]","type":"quantitative","scale":{"domain":[-400,0],"nice":false},"axis":{"values":[-400,-350,-300,-250,-200,-150,-100,-50,0],"title":"z [m]","labelExpr":"''+datum.value"}},"detail":{"field":"k"},"fill":{"field":"v","type":"quantitative","scale":{"domain":[1.4,2.1,2.8,3.5,4.2,4.9,5.6,6.3,7],"range":["#352a87","#0363e1","#1485d4","#06a7c6","#38b99e","#92bf73","#d9ba56","#fcce2e","#f9fb0e"]},"legend":null}}},{"data":{"name":"sea"},"transform":[{"flatten":["pts"]}],"mark":{"type":"line","interpolate":"catmull-rom","fill":"white","stroke":"black","strokeWidth":0.8,"clip":true,"order":null},"encoding":{"x":{"field":"pts[0]","type":"quantitative"},"y":{"field":"pts[1]","type":"quantitative"}}}]},
{"width":17,"height":274,"data":{"name":"cb"},"transform":[{"filter":"datum.c=='T'"},{"flatten":["v"]}],"mark":{"type":"tick","orient":"horizontal","thickness":6,"size":17,"clip":true,"opacity":1},"encoding":{"y":{"field":"v","type":"quantitative","scale":{"domain":[1.4,7],"nice":false,"zero":false},"axis":{"orient":"right","values":[1.5,2,2.5,3,3.5,4,4.5,5,5.5,6,6.5,7],"format":"~g","title":null,"labelFont":"Liberation Sans","labelFontSize":9.8,"tickSize":-3,"labelPadding":5.5}},"color":{"field":"v","type":"quantitative","scale":{"domain":[1.4,2.1,2.8,3.5,4.2,4.9,5.6,6.3,7],"range":["#352a87","#0363e1","#1485d4","#06a7c6","#38b99e","#92bf73","#d9ba56","#fcce2e","#f9fb0e"]},"legend":null}}}
],"spacing":7,"bounds":"flush"},
{"hconcat":[
{"width":317,"height":274,"title":{"text":"(d) Day 100.","orient":"bottom","dx":12,"offset":22},"layer":[{"data":{"name":"m"},"transform":[{"filter":"datum.p=='d'"},{"flatten":["pts"]}],"mark":{"type":"line","interpolate":"catmull-rom","stroke":"black","strokeWidth":0.8,"clip":true,"order":null},"encoding":{"x":{"field":"pts[0]","type":"quantitative","scale":{"domain":[2.5,34.5],"nice":false,"zero":false},"axis":{"values":[5,10,15,20,25,30],"title":"x [km]"}},"y":{"field":"pts[1]","type":"quantitative","scale":{"domain":[-400,0],"nice":false},"axis":{"values":[-400,-350,-300,-250,-200,-150,-100,-50,0],"title":"z [m]","labelExpr":"''+datum.value"}},"detail":{"field":"k"},"fill":{"field":"v","type":"quantitative","scale":{"domain":[0,0.125,0.375,0.625,0.875,1],"range":["#000080","#0000ff","#00ffff","#ffff00","#ff0000","#800000"]},"legend":null}}},{"data":{"name":"sea"},"transform":[{"flatten":["pts"]}],"mark":{"type":"line","interpolate":"catmull-rom","fill":"white","stroke":"black","strokeWidth":0.8,"clip":true,"order":null},"encoding":{"x":{"field":"pts[0]","type":"quantitative"},"y":{"field":"pts[1]","type":"quantitative"}}}]},
{"width":17,"height":274,"data":{"name":"cb"},"transform":[{"filter":"datum.c=='J'"},{"flatten":["v"]}],"mark":{"type":"tick","orient":"horizontal","thickness":6.5,"size":17,"clip":true,"opacity":1},"encoding":{"y":{"field":"v","type":"quantitative","scale":{"domain":[0,1],"nice":false},"axis":{"orient":"right","values":[0,0.1,0.2,0.3,0.4,0.5,0.6,0.7,0.8,0.9,1],"format":"~g","title":null,"labelFont":"Liberation Sans","labelFontSize":9.8,"tickSize":-3,"labelPadding":5.5}},"color":{"field":"v","type":"quantitative","scale":{"domain":[0,0.125,0.375,0.625,0.875,1],"range":["#000080","#0000ff","#00ffff","#ffff00","#ff0000","#800000"]},"legend":null}}}
],"spacing":7,"bounds":"flush"}
],"spacing":108.8,"resolve":{"scale":{"color":"independent","fill":"independent"}}},
{"hconcat":[
{"hconcat":[
{"width":317,"height":274,"title":{"text":"(e) Day 145.","orient":"bottom","dx":12,"offset":22},"layer":[{"data":{"name":"m"},"transform":[{"filter":"datum.p=='e'"},{"flatten":["pts"]}],"mark":{"type":"line","interpolate":"catmull-rom","stroke":"black","strokeWidth":0.8,"clip":true,"order":null},"encoding":{"x":{"field":"pts[0]","type":"quantitative","scale":{"domain":[2.5,34.5],"nice":false,"zero":false},"axis":{"values":[5,10,15,20,25,30],"title":"x [km]"}},"y":{"field":"pts[1]","type":"quantitative","scale":{"domain":[-400,0],"nice":false},"axis":{"values":[-400,-350,-300,-250,-200,-150,-100,-50,0],"title":"z [m]","labelExpr":"''+datum.value"}},"detail":{"field":"k"},"fill":{"field":"v","type":"quantitative","scale":{"domain":[1.4,2.1,2.8,3.5,4.2,4.9,5.6,6.3,7],"range":["#352a87","#0363e1","#1485d4","#06a7c6","#38b99e","#92bf73","#d9ba56","#fcce2e","#f9fb0e"]},"legend":null}}},{"data":{"name":"sea"},"transform":[{"flatten":["pts"]}],"mark":{"type":"line","interpolate":"catmull-rom","fill":"white","stroke":"black","strokeWidth":0.8,"clip":true,"order":null},"encoding":{"x":{"field":"pts[0]","type":"quantitative"},"y":{"field":"pts[1]","type":"quantitative"}}}]},
{"width":17,"height":274,"data":{"name":"cb"},"transform":[{"filter":"datum.c=='T'"},{"flatten":["v"]}],"mark":{"type":"tick","orient":"horizontal","thickness":6,"size":17,"clip":true,"opacity":1},"encoding":{"y":{"field":"v","type":"quantitative","scale":{"domain":[1.4,7],"nice":false,"zero":false},"axis":{"orient":"right","values":[1.5,2,2.5,3,3.5,4,4.5,5,5.5,6,6.5,7],"format":"~g","title":null,"labelFont":"Liberation Sans","labelFontSize":9.8,"tickSize":-3,"labelPadding":5.5}},"color":{"field":"v","type":"quantitative","scale":{"domain":[1.4,2.1,2.8,3.5,4.2,4.9,5.6,6.3,7],"range":["#352a87","#0363e1","#1485d4","#06a7c6","#38b99e","#92bf73","#d9ba56","#fcce2e","#f9fb0e"]},"legend":null}}}
],"spacing":7,"bounds":"flush"},
{"hconcat":[
{"width":317,"height":274,"title":{"text":"(f) Day 145.","orient":"bottom","dx":12,"offset":22},"layer":[{"data":{"name":"m"},"transform":[{"filter":"datum.p=='f'"},{"flatten":["pts"]}],"mark":{"type":"line","interpolate":"catmull-rom","stroke":"black","strokeWidth":0.8,"clip":true,"order":null},"encoding":{"x":{"field":"pts[0]","type":"quantitative","scale":{"domain":[2.5,34.5],"nice":false,"zero":false},"axis":{"values":[5,10,15,20,25,30],"title":"x [km]"}},"y":{"field":"pts[1]","type":"quantitative","scale":{"domain":[-400,0],"nice":false},"axis":{"values":[-400,-350,-300,-250,-200,-150,-100,-50,0],"title":"z [m]","labelExpr":"''+datum.value"}},"detail":{"field":"k"},"fill":{"field":"v","type":"quantitative","scale":{"domain":[0,0.125,0.375,0.625,0.875,1],"range":["#000080","#0000ff","#00ffff","#ffff00","#ff0000","#800000"]},"legend":null}}},{"data":{"name":"sea"},"transform":[{"flatten":["pts"]}],"mark":{"type":"line","interpolate":"catmull-rom","fill":"white","stroke":"black","strokeWidth":0.8,"clip":true,"order":null},"encoding":{"x":{"field":"pts[0]","type":"quantitative"},"y":{"field":"pts[1]","type":"quantitative"}}}]},
{"width":17,"height":274,"data":{"name":"cb"},"transform":[{"filter":"datum.c=='J'"},{"flatten":["v"]}],"mark":{"type":"tick","orient":"horizontal","thickness":6.5,"size":17,"clip":true,"opacity":1},"encoding":{"y":{"field":"v","type":"quantitative","scale":{"domain":[0,1],"nice":false},"axis":{"orient":"right","values":[0,0.1,0.2,0.3,0.4,0.5,0.6,0.7,0.8,0.9,1],"format":"~g","title":null,"labelFont":"Liberation Sans","labelFontSize":9.8,"tickSize":-3,"labelPadding":5.5}},"color":{"field":"v","type":"quantitative","scale":{"domain":[0,0.125,0.375,0.625,0.875,1],"range":["#000080","#0000ff","#00ffff","#ffff00","#ff0000","#800000"]},"legend":null}}}
],"spacing":7,"bounds":"flush"}
],"spacing":108.8,"resolve":{"scale":{"color":"independent","fill":"independent"}}},
{"hconcat":[
{"hconcat":[
{"width":317,"height":274,"title":{"text":"(g) Day 175.","orient":"bottom","dx":12,"offset":22},"layer":[{"data":{"name":"m"},"transform":[{"filter":"datum.p=='g'"},{"flatten":["pts"]}],"mark":{"type":"line","interpolate":"catmull-rom","stroke":"black","strokeWidth":0.8,"clip":true,"order":null},"encoding":{"x":{"field":"pts[0]","type":"quantitative","scale":{"domain":[2.5,34.5],"nice":false,"zero":false},"axis":{"values":[5,10,15,20,25,30],"title":"x [km]"}},"y":{"field":"pts[1]","type":"quantitative","scale":{"domain":[-400,0],"nice":false},"axis":{"values":[-400,-350,-300,-250,-200,-150,-100,-50,0],"title":"z [m]","labelExpr":"''+datum.value"}},"detail":{"field":"k"},"fill":{"field":"v","type":"quantitative","scale":{"domain":[1.4,2.1,2.8,3.5,4.2,4.9,5.6,6.3,7],"range":["#352a87","#0363e1","#1485d4","#06a7c6","#38b99e","#92bf73","#d9ba56","#fcce2e","#f9fb0e"]},"legend":null}}},{"data":{"name":"sea"},"transform":[{"flatten":["pts"]}],"mark":{"type":"line","interpolate":"catmull-rom","fill":"white","stroke":"black","strokeWidth":0.8,"clip":true,"order":null},"encoding":{"x":{"field":"pts[0]","type":"quantitative"},"y":{"field":"pts[1]","type":"quantitative"}}}]},
{"width":17,"height":274,"data":{"name":"cb"},"transform":[{"filter":"datum.c=='T'"},{"flatten":["v"]}],"mark":{"type":"tick","orient":"horizontal","thickness":6,"size":17,"clip":true,"opacity":1},"encoding":{"y":{"field":"v","type":"quantitative","scale":{"domain":[1.4,7],"nice":false,"zero":false},"axis":{"orient":"right","values":[1.5,2,2.5,3,3.5,4,4.5,5,5.5,6,6.5,7],"format":"~g","title":null,"labelFont":"Liberation Sans","labelFontSize":9.8,"tickSize":-3,"labelPadding":5.5}},"color":{"field":"v","type":"quantitative","scale":{"domain":[1.4,2.1,2.8,3.5,4.2,4.9,5.6,6.3,7],"range":["#352a87","#0363e1","#1485d4","#06a7c6","#38b99e","#92bf73","#d9ba56","#fcce2e","#f9fb0e"]},"legend":null}}}
],"spacing":7,"bounds":"flush"},
{"hconcat":[
{"width":317,"height":274,"title":{"text":"(h) Day 175.","orient":"bottom","dx":12,"offset":22},"layer":[{"data":{"name":"m"},"transform":[{"filter":"datum.p=='h'"},{"flatten":["pts"]}],"mark":{"type":"line","interpolate":"catmull-rom","stroke":"black","strokeWidth":0.8,"clip":true,"order":null},"encoding":{"x":{"field":"pts[0]","type":"quantitative","scale":{"domain":[2.5,34.5],"nice":false,"zero":false},"axis":{"values":[5,10,15,20,25,30],"title":"x [km]"}},"y":{"field":"pts[1]","type":"quantitative","scale":{"domain":[-400,0],"nice":false},"axis":{"values":[-400,-350,-300,-250,-200,-150,-100,-50,0],"title":"z [m]","labelExpr":"''+datum.value"}},"detail":{"field":"k"},"fill":{"field":"v","type":"quantitative","scale":{"domain":[0,0.125,0.375,0.625,0.875,1],"range":["#000080","#0000ff","#00ffff","#ffff00","#ff0000","#800000"]},"legend":null}}},{"data":{"name":"sea"},"transform":[{"flatten":["pts"]}],"mark":{"type":"line","interpolate":"catmull-rom","fill":"white","stroke":"black","strokeWidth":0.8,"clip":true,"order":null},"encoding":{"x":{"field":"pts[0]","type":"quantitative"},"y":{"field":"pts[1]","type":"quantitative"}}}]},
{"width":17,"height":274,"data":{"name":"cb"},"transform":[{"filter":"datum.c=='J'"},{"flatten":["v"]}],"mark":{"type":"tick","orient":"horizontal","thickness":6.5,"size":17,"clip":true,"opacity":1},"encoding":{"y":{"field":"v","type":"quantitative","scale":{"domain":[0,1],"nice":false},"axis":{"orient":"right","values":[0,0.1,0.2,0.3,0.4,0.5,0.6,0.7,0.8,0.9,1],"format":"~g","title":null,"labelFont":"Liberation Sans","labelFontSize":9.8,"tickSize":-3,"labelPadding":5.5}},"color":{"field":"v","type":"quantitative","scale":{"domain":[0,0.125,0.375,0.625,0.875,1],"range":["#000080","#0000ff","#00ffff","#ffff00","#ff0000","#800000"]},"legend":null}}}
],"spacing":7,"bounds":"flush"}
],"spacing":108.8,"resolve":{"scale":{"color":"independent","fill":"independent"}}}
],"spacing":24,"resolve":{"scale":{"color":"independent","fill":"independent"}}}
